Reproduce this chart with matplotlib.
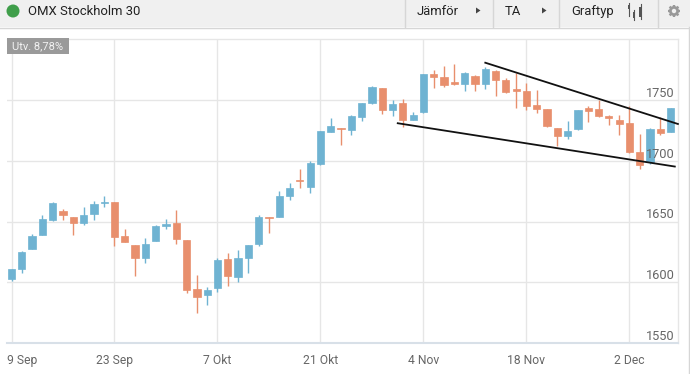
import matplotlib

matplotlib.use("Agg")
import matplotlib.pyplot as plt
from matplotlib.patches import Circle, Rectangle, Polygon
import numpy as np

W, H = 690, 374

opens = [1602.5, 1610.7, 1627.7, 1639.3, 1651.3, 1658.5, 1653.5, 1649.2, 1656.3, 1665.5,
         1666.2, 1638.4, 1630.5, 1620.3, 1634.0, 1646.4, 1648.6, 1634.9, 1594.2, 1589.8,
         1595.6, 1619.0, 1604.8, 1620.4, 1632.0, 1653.9, 1653.8, 1670.8, 1684.5, 1678.7,
         1697.4, 1724.3, 1727.0, 1726.0, 1736.7, 1748.2, 1760.0, 1742.0, 1747.7, 1734.2,
         1740.3, 1771.8, 1769.0, 1765.0, 1763.6, 1770.0, 1763.3, 1774.6, 1766.6, 1759.2,
         1757.6, 1746.0, 1742.7, 1727.0, 1720.5, 1726.2, 1743.5, 1743.3, 1737.2, 1733.7,
         1731.7, 1707.6, 1699.0, 1726.2, 1724.0]
closes = [1611.0, 1625.3, 1637.9, 1651.9, 1665.6, 1655.2, 1649.2, 1655.5, 1664.5, 1666.5,
          1637.6, 1633.0, 1620.3, 1631.6, 1646.7, 1647.8, 1635.7, 1593.7, 1588.2, 1593.7,
          1618.1, 1605.5, 1620.0, 1630.9, 1653.8, 1652.9, 1671.0, 1677.4, 1683.2, 1698.5,
          1724.6, 1729.0, 1726.2, 1737.0, 1747.7, 1761.1, 1742.2, 1747.0, 1734.2, 1737.8,
          1771.8, 1769.6, 1762.5, 1763.3, 1772.7, 1763.6, 1775.7, 1767.2, 1757.0, 1757.6,
          1745.7, 1743.0, 1729.3, 1720.5, 1724.6, 1742.2, 1741.0, 1737.5, 1735.9, 1730.6,
          1707.3, 1697.0, 1726.5, 1723.2, 1743.5]
highs = [1611.0, 1625.5, 1639.8, 1655.7, 1666.0, 1660.4, 1653.7, 1662.0, 1667.3, 1671.0,
         1666.2, 1644.2, 1630.5, 1636.2, 1647.0, 1652.2, 1659.6, 1634.9, 1605.8, 1596.2,
         1620.0, 1623.9, 1626.6, 1631.0, 1655.4, 1654.0, 1675.4, 1682.0, 1693.6, 1700.0,
         1725.0, 1735.3, 1727.0, 1738.0, 1748.0, 1762.2, 1760.0, 1750.4, 1751.5, 1740.8,
         1772.0, 1775.0, 1778.4, 1780.0, 1773.5, 1771.0, 1777.3, 1775.0, 1768.3, 1773.0,
         1764.0, 1758.6, 1743.0, 1727.0, 1733.0, 1742.5, 1745.2, 1750.4, 1738.0, 1737.8,
         1745.5, 1722.0, 1727.0, 1736.0, 1743.7]
lows = [1601.4, 1608.0, 1627.5, 1639.0, 1651.0, 1651.3, 1639.0, 1647.0, 1651.3, 1662.3,
        1630.0, 1633.0, 1605.2, 1615.6, 1634.0, 1643.7, 1631.9, 1591.5, 1574.5, 1581.6,
        1591.8, 1597.3, 1600.0, 1608.0, 1629.6, 1641.0, 1653.8, 1668.0, 1677.6, 1674.0,
        1697.0, 1724.0, 1713.3, 1721.3, 1732.8, 1747.4, 1739.2, 1737.5, 1728.4, 1734.0,
        1740.0, 1760.6, 1761.4, 1763.0, 1758.0, 1758.0, 1759.7, 1753.7, 1756.5, 1743.8,
        1742.0, 1740.0, 1728.4, 1712.5, 1718.5, 1726.0, 1732.0, 1736.0, 1730.0, 1721.3,
        1706.5, 1693.8, 1698.0, 1721.3, 1723.8]

y_ticks = [1550, 1600, 1650, 1700, 1750]
x_tick_pos = [0, 10, 20, 30, 40, 50, 60]
x_tick_labels = ["9 Sep", "23 Sep", "7 Okt", "21 Okt", "4 Nov", "18 Nov", "2 Dec"]

upper_x = [46.0, 64.7]
upper_y = [1781.1, 1730.6]
lower_x = [37.5, 64.4]
lower_y = [1731.2, 1695.5]

BLUE = "#6fb3d2"
ORANGE = "#e88f6d"
GRID = "#e6e6e6"
FONT = "Roboto"

fig = plt.figure(figsize=(W / 100, H / 100), dpi=100, facecolor="white")

# plot area in pixels: x 7..678, y 38.5..343
ax = fig.add_axes([7 / W, 1 - 343 / H, 671 / W, 304.5 / H])
ax.set_xlim(-0.437, 64.71)
ax.set_ylim(1550.25, 1801.07)
ax.spines["left"].set_visible(False)
ax.spines["right"].set_color(GRID)
ax.spines["right"].set_linewidth(1.0)
ax.spines["bottom"].set_color("#d8e0e8")
ax.spines["bottom"].set_linewidth(1.5)
ax.spines["top"].set_color(GRID)
ax.spines["top"].set_linewidth(1.0)
ax.set_yticks(y_ticks)
ax.set_xticks(x_tick_pos)
ax.set_xticklabels([])
ax.set_yticklabels([])
ax.tick_params(length=0)
ax.grid(True, color=GRID, lw=1.0)
ax.set_axisbelow(True)

for i, (o, c, hi, lo) in enumerate(zip(opens, closes, highs, lows)):
    col = BLUE if c >= o else ORANGE
    ax.plot([i, i], [lo, hi], color=col, lw=1.0, solid_capstyle="butt", zorder=3)
    ax.bar(i, abs(c - o), bottom=min(o, c), width=0.7, color=col, edgecolor=col, lw=0.5, zorder=3)

ax.plot(upper_x, upper_y, color="#111111", lw=1.3, zorder=5, clip_on=False)
ax.plot(lower_x, lower_y, color="#111111", lw=1.3, zorder=5)

for v in y_ticks:
    ax.annotate(str(v), (1, v), xycoords=("axes fraction", "data"), xytext=(-2.4, 4.9),
                textcoords="offset points", ha="right", va="center", fontsize=9.2,
                color="#666666", family=FONT, zorder=6)

for p, lab in zip(x_tick_pos, x_tick_labels):
    ha = "left" if p == 0 else "center"
    xpos = -0.437 if p == 0 else p
    ax.annotate(lab, (xpos, 0), xycoords=("data", "axes fraction"), xytext=(0, -12.5),
                textcoords="offset points", ha=ha, va="center", fontsize=8.7,
                color="#666666", family=FONT)

# page chrome in pixel coordinates
ui = fig.add_axes([0, 0, 1, 1], zorder=10)
ui.set_xlim(0, W)
ui.set_ylim(H, 0)
ui.axis("off")
ui.patch.set_alpha(0)

ui.add_patch(Rectangle((0, 0), W, 27, fc="#f0f0f0", ec="none"))
ui.plot([0, W], [27.5, 27.5], color="#d6d6d6", lw=1.0)
for sx in [405, 493, 559, 658]:
    ui.plot([sx, sx], [0, 27], color="#d6d6d6", lw=1.0)
ui.plot([689, 689], [27, H], color="#d6d6d6", lw=1.0)

ui.add_patch(Circle((13, 11), 6.5, fc="#3f9e4a", ec="none"))
ui.text(28, 11, "OMX Stockholm 30", fontsize=9.45, color="#222222", family=FONT, va="center")
ui.text(417, 11, "Jämför", fontsize=9.4, color="#222222", family=FONT, va="center")
ui.text(505, 11, "TA", fontsize=9.4, color="#222222", family=FONT, va="center")
ui.text(571, 11, "Graftyp", fontsize=9.4, color="#222222", family=FONT, va="center")
for tx in [476, 542]:
    ui.add_patch(Polygon([(tx, 7.5), (tx, 13.5), (tx + 4.5, 10.5)], fc="#444444", ec="none"))

# candle icon
ui.plot([629, 629], [3, 16], color="#555555", lw=0.8)
ui.add_patch(Rectangle((627.8, 5), 2.4, 4, fc="#555555", ec="none"))
ui.plot([634, 634], [10, 20], color="#555555", lw=0.8)
ui.add_patch(Rectangle((632.8, 12), 2.4, 6, fc="#555555", ec="none"))
ui.plot([640.5, 640.5], [4, 19], color="#555555", lw=0.8)
ui.add_patch(Rectangle((639, 7), 3, 10, fc="#555555", ec="none"))

# gear icon
gx, gy = 674, 11
for a in np.arange(0, 180, 45):
    dx, dy = 6.2 * np.cos(np.radians(a)), 6.2 * np.sin(np.radians(a))
    ui.plot([gx - dx, gx + dx], [gy - dy, gy + dy], color="#999999", lw=1.7, solid_capstyle="butt")
ui.add_patch(Circle((gx, gy), 3.6, fc="none", ec="#999999", lw=2.0))
ui.add_patch(Circle((gx, gy), 2.2, fc="#f0f0f0", ec="none", zorder=5))

ui.add_patch(Rectangle((7, 38), 62, 16, fc="#9a9a9a", ec="none"))
ui.text(12, 46, "Utv. 8,78%", fontsize=8.0, color="#f2f2f2", family=FONT, va="center")

fig.savefig("out.png", dpi=100)
